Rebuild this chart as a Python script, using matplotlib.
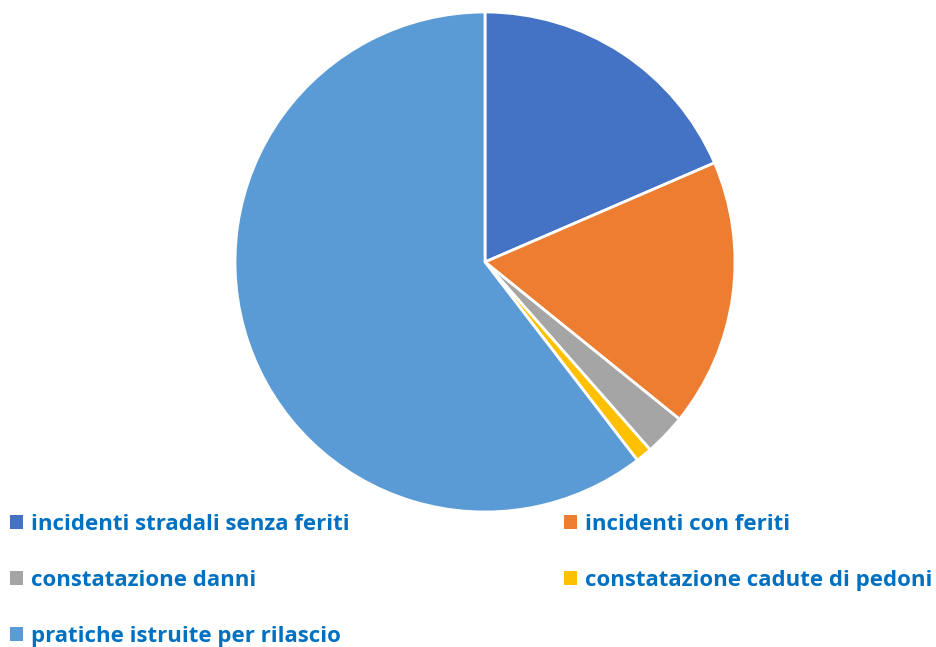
import matplotlib.pyplot as plt
from matplotlib.textpath import TextPath
from matplotlib.font_manager import FontProperties

labels = ['incidenti stradali senza feriti', 'incidenti con feriti',
          'constatazione danni', 'constatazione cadute di pedoni',
          'pratiche istruite per rilascio']
values = [18.5, 17.3, 2.7, 1.05, 60.4]
colors = ['#4472C4', '#ED7D31', '#A5A5A5', '#FFC000', '#5B9BD5']

W, H = 936, 647
fig = plt.figure(figsize=(W / 100, H / 100), dpi=100, facecolor='w')

cx, cy, r = 485, 262, 250
ax = fig.add_axes([(cx - r) / W, (H - cy - r) / H, 2 * r / W, 2 * r / H])
wedges, _ = ax.pie(values, colors=colors, startangle=90, counterclock=False,
                   radius=1, wedgeprops=dict(edgecolor='white', linewidth=2))
ax.set_xlim(-1.0, 1.0)
ax.set_ylim(-1.0, 1.0)
ax.set_aspect('equal')
ax.axis('off')

# pick a font size so the longest left label is ~315 px wide like the original
fp = FontProperties(family='Open Sans', weight='bold', size=100)
w100 = TextPath((0, 0), labels[0], prop=fp).get_extents().width  # points at size 100
size = 315 / (w100 / 100 * 100 / 72)
fs_px = size * 100 / 72
# rows in the original are ~56 px apart
spacing = (57 - fs_px * 1.0) / fs_px

font = dict(family=['Open Sans', 'DejaVu Sans'], weight='bold', size=size)
leg_kw = dict(frameon=False, prop=font, labelcolor='#0070C0', loc='upper left',
              borderpad=0, borderaxespad=0, handlelength=0.6, handleheight=0.6,
              handletextpad=0.35, labelspacing=spacing)

leg1 = fig.legend([wedges[0], wedges[2], wedges[4]], [labels[0], labels[2], labels[4]],
                  bbox_to_anchor=(10 / W, 1 - 514 / H), **leg_kw)
leg2 = fig.legend([wedges[1], wedges[3]], [labels[1], labels[3]],
                  bbox_to_anchor=(564 / W, 1 - 514 / H), **leg_kw)
for leg in (leg1, leg2):
    for h in leg.legend_handles:
        h.set_edgecolor('none')

fig.savefig('out.png', dpi=100, facecolor=fig.get_facecolor())
